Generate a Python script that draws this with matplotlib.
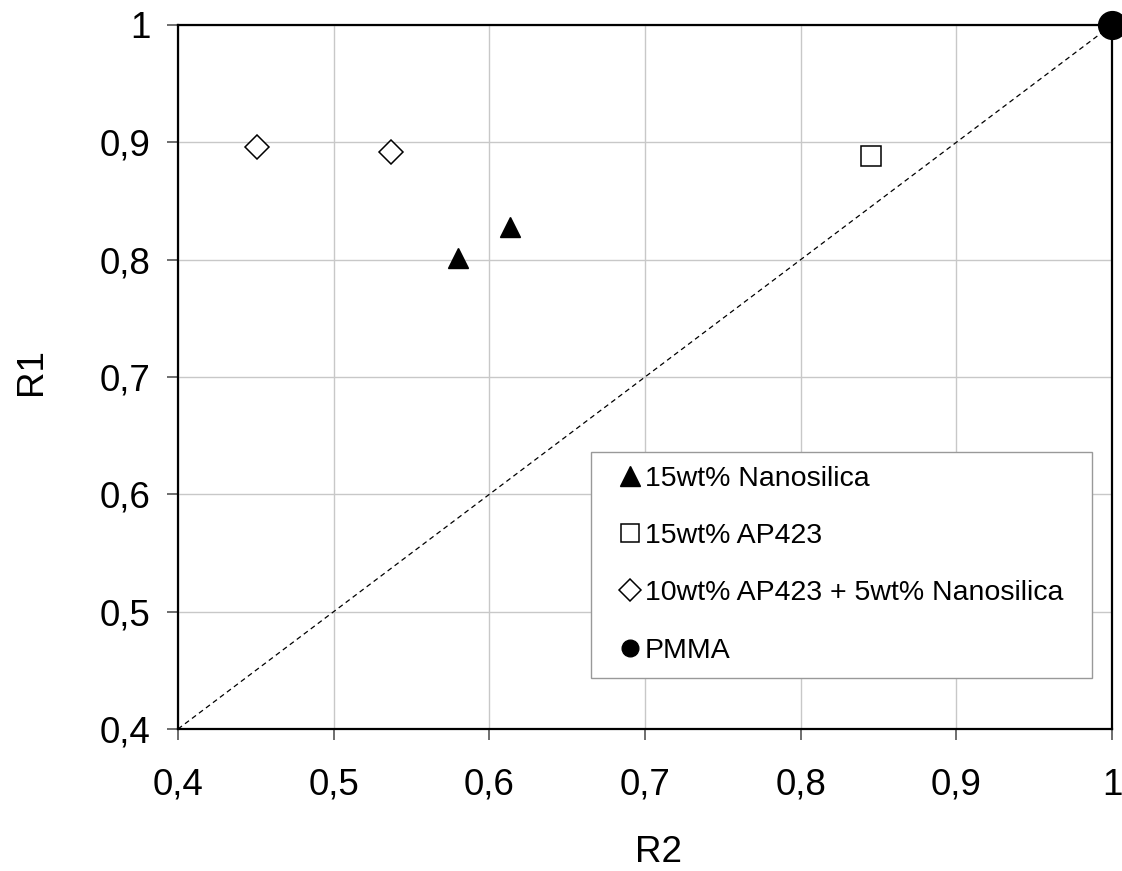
import matplotlib
matplotlib.use("Agg")
import matplotlib.pyplot as plt
from matplotlib.lines import Line2D

plt.rcParams['font.family'] = ['Liberation Sans', 'DejaVu Sans']

# Data
nano_r2 = [0.580, 0.613]
nano_r1 = [0.801, 0.828]
ap_r2 = [0.845]
ap_r1 = [0.888]
mix_r2 = [0.451, 0.537]
mix_r1 = [0.896, 0.892]
pmma_r2 = [1.0]
pmma_r1 = [1.0]
diag = [0.4, 1.0]
ticks = [0.4, 0.5, 0.6, 0.7, 0.8, 0.9, 1.0]
tick_labels = ["0,4", "0,5", "0,6", "0,7", "0,8", "0,9", "1"]
labels = ["15wt% Nanosilica", "15wt% AP423", "10wt% AP423 + 5wt% Nanosilica", "PMMA"]

fig = plt.figure(figsize=(11.22, 8.71), dpi=100)
ax = fig.add_axes([178/1122, 1-729/871, (1112-178)/1122, (729-25)/871])

ax.plot(diag, diag, ls=(0, (4, 3)), color='black', lw=0.9, zorder=2)
ax.plot(nano_r2, nano_r1, ls='none', marker='^', ms=15, mfc='black', mec='black', zorder=3)
ax.plot(ap_r2, ap_r1, ls='none', marker='s', ms=14.5, mfc='white', mec='black', mew=1.1, zorder=3)
ax.plot(mix_r2, mix_r1, ls='none', marker='D', ms=12.5, mfc='white', mec='black', mew=1.1, zorder=3)
ax.plot(pmma_r2, pmma_r1, ls='none', marker='o', ms=20, mfc='black', mec='black', zorder=4, clip_on=False)

ax.set_xlim(0.4, 1.0)
ax.set_ylim(0.4, 1.0)
ax.set_xticks(ticks)
ax.set_xticklabels(tick_labels)
ax.set_yticks(ticks)
ax.set_yticklabels(tick_labels)
ax.tick_params(axis='both', direction='out', length=8, width=1.2, color='#555555',
               labelsize=26.5)
ax.tick_params(axis='x', pad=20)
ax.tick_params(axis='y', pad=12)
ax.grid(True, color='#c8c8c8', lw=1.0)
ax.set_axisbelow(True)
for s in ax.spines.values():
    s.set_linewidth(1.6)
    s.set_color('black')

ax.set_xlabel("R2", fontsize=26.5)
ax.set_ylabel("R1", fontsize=26.5)
ax.xaxis.set_label_coords((659 - 178) / 934, (729 - 835) / 704)
ax.yaxis.set_label_coords((49 - 178) / 934, (729 - 372) / 704)

handles = [
    Line2D([], [], ls='none', marker='^', ms=15, mfc='black', mec='black'),
    Line2D([], [], ls='none', marker='s', ms=13.5, mfc='white', mec='black', mew=1.1),
    Line2D([], [], ls='none', marker='D', ms=11.5, mfc='white', mec='black', mew=1.1),
    Line2D([], [], ls='none', marker='o', ms=12, mfc='black', mec='black'),
]
x0 = (591 - 178) / 934
y0 = (729 - 678) / 704
w = (1092 - 591) / 934
leg = ax.legend(handles, labels, loc='lower left', bbox_to_anchor=(x0, y0, w, 0.3),
                mode='expand',
                fontsize=20.5, frameon=True, fancybox=False, framealpha=1,
                edgecolor='#999999', handlelength=1.73, handletextpad=-0.34,
                labelspacing=1.1, borderpad=0.5, borderaxespad=0)
leg.get_frame().set_linewidth(1.0)

fig.savefig("out.png", dpi=100)
